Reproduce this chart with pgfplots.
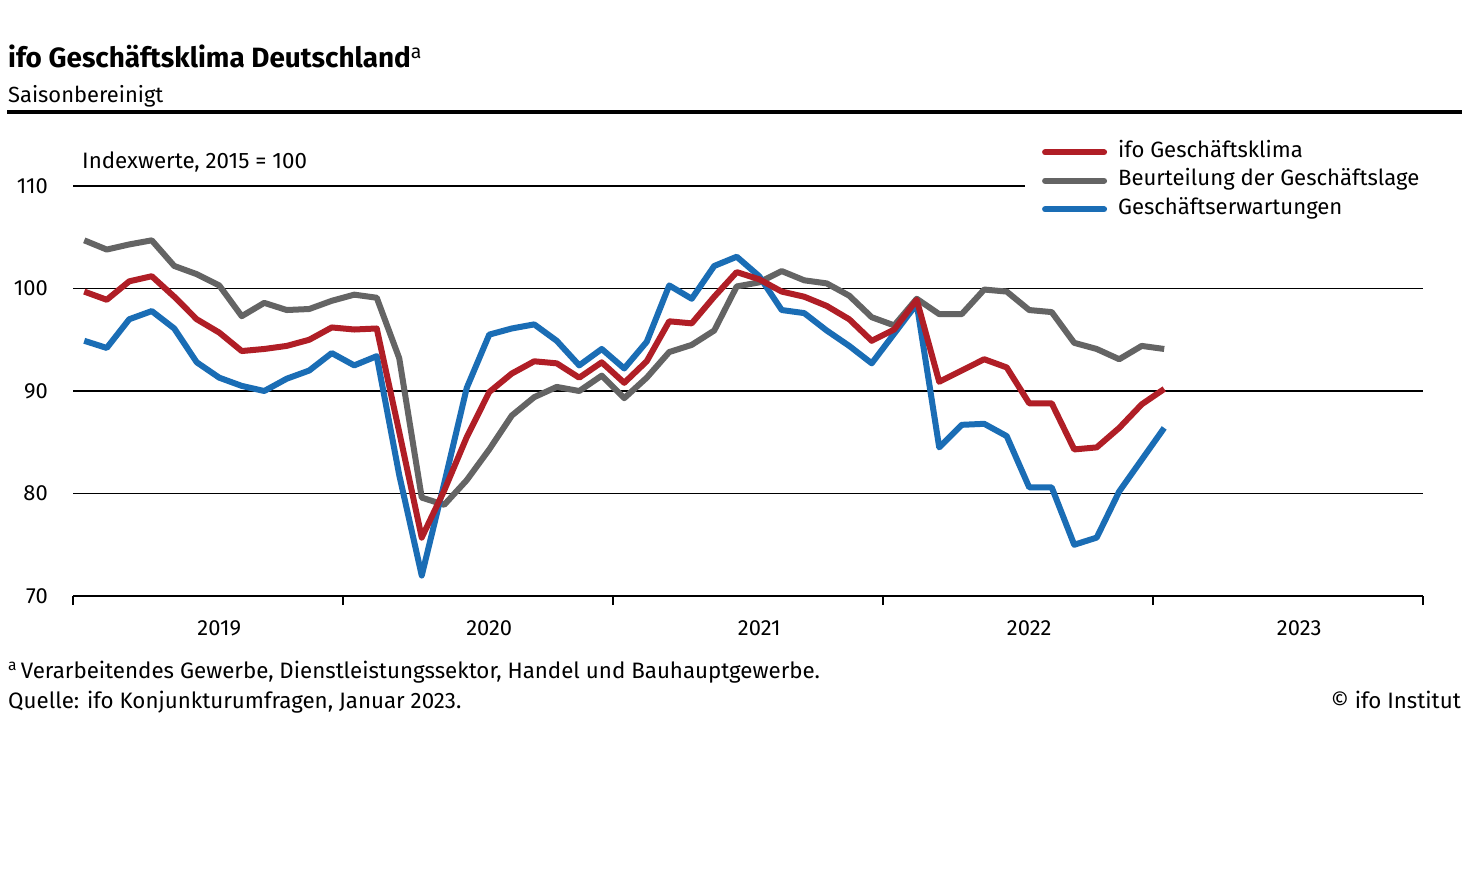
\documentclass[border=0pt]{standalone}
\usepackage{pgfplots}
\pgfplotsset{compat=1.18}
\usepackage{fontspec}
\setmainfont{Fira Sans}
\definecolor{ifored}{HTML}{B01E26}
\definecolor{ifogrey}{HTML}{646464}
\definecolor{ifoblue}{HTML}{1A6DB5}
\pgfplotstableread{
x climate situation expect
0.5 99.7 104.7 94.9
1.5 98.9 103.8 94.2
2.5 100.7 104.3 97.0
3.5 101.2 104.7 97.8
4.5 99.2 102.2 96.1
5.5 97.0 101.4 92.8
6.5 95.7 100.3 91.3
7.5 93.9 97.3 90.5
8.5 94.1 98.6 90.0
9.5 94.4 97.9 91.2
10.5 95.0 98.0 92.0
11.5 96.2 98.8 93.7
12.5 96.0 99.4 92.5
13.5 96.1 99.1 93.4
14.5 86.0 93.2 81.8
15.5 75.7 79.6 72.0
16.5 80.3 78.9 81.0
17.5 85.5 81.3 90.3
18.5 89.9 84.3 95.5
19.5 91.7 87.6 96.1
20.5 92.9 89.4 96.5
21.5 92.7 90.4 94.9
22.5 91.3 90.0 92.5
23.5 92.8 91.5 94.1
24.5 90.8 89.3 92.2
25.5 92.9 91.3 94.8
26.5 96.8 93.8 100.3
27.5 96.6 94.5 99.0
28.5 99.2 95.9 102.2
29.5 101.6 100.2 103.1
30.5 100.9 100.6 101.2
31.5 99.7 101.7 97.9
32.5 99.2 100.8 97.6
33.5 98.3 100.5 95.9
34.5 97.0 99.3 94.4
35.5 94.9 97.2 92.7
36.5 96.0 96.4 95.6
37.5 98.9 99.0 98.5
38.5 90.9 97.5 84.5
39.5 92.0 97.5 86.7
40.5 93.1 99.9 86.8
41.5 92.3 99.7 85.6
42.5 88.8 97.9 80.6
43.5 88.8 97.7 80.6
44.5 84.3 94.7 75.0
45.5 84.5 94.1 75.7
46.5 86.4 93.1 80.2
47.5 88.7 94.4 83.3
48.5 90.2 94.1 86.4
}\ifodata
\begin{document}
\begin{tikzpicture}[x=1bp,y=1bp]
\path[use as bounding box, fill=white] (0,0) rectangle (1471,-877);
\node[anchor=base west, inner sep=0pt, font=\fontsize{28}{32}\selectfont\bfseries] at (8,-67) {ifo Geschäftsklima Deutschland\textsuperscript{\mdseries a}};
\node[anchor=base west, inner sep=0pt, font=\fontsize{22}{26}\selectfont] at (8,-102) {Saisonbereinigt};
\draw[line width=4bp] (7,-112) -- (1462,-112);
\node[anchor=base west, inner sep=0pt, font=\fontsize{22.4}{26}\selectfont] at (82,-168) {Indexwerte, 2015 = 100};
\begin{axis}[
  at={(73bp,-596bp)}, anchor=south west,
  scale only axis, width=1350bp, height=410bp,
  xmin=0, xmax=60, ymin=70, ymax=110,
  axis x line*=bottom, axis y line*=left,
  y axis line style={draw=none},
  x axis line style={line width=1.3bp},
  ytick={70,80,90,100}, extra y ticks={110}, extra y tick style={grid=none},
  ymajorgrids, grid style={black, line width=1.1bp},
  ytick style={draw=none},
  yticklabel style={anchor=east, inner sep=0pt, xshift=-16bp},
  xtick={0,12,...,60}, xticklabels={},
  tick align=outside, major tick length=9bp,
  xtick style={black, line width=1.1bp},
  extra x ticks={6.5,18.5,30.5,42.5,54.5},
  extra x tick labels={2019,2020,2021,2022,2023},
  extra x tick style={major tick length=0pt, xticklabel style={anchor=center, inner sep=0pt, yshift=-32bp}},
  /pgf/number format/assume math mode=true,
  tick label style={font=\fontsize{22}{26}\selectfont},
  legend style={at={(0.7155,1.112)}, anchor=north west, draw=none, fill=none,
    font=\fontsize{22.2}{26}\selectfont, row sep=8.5bp,
    nodes={inner sep=0pt, text height=15bp, text depth=5bp}},
  legend cell align=left,
  legend image code/.code={\draw[#1, line cap=round] (3bp,0bp) -- (62bp,0bp); \path[draw=none, fill=none] (0bp,0bp) -- (76bp,0bp);},
  clip=false,
]
\addlegendimage{ifored, line width=6bp}
\addlegendentry{ifo Geschäftsklima}
\addlegendimage{ifogrey, line width=6bp}
\addlegendentry{Beurteilung der Geschäftslage}
\addlegendimage{ifoblue, line width=6bp}
\addlegendentry{Geschäftserwartungen}
\draw[black, line width=1.1bp] (axis cs:0,110) -- (axis cs:42.3,110);
\addplot[forget plot, ifogrey, line width=6bp, line join=round] table[x=x, y=situation] {\ifodata};
\addplot[forget plot, ifoblue, line width=6bp, line join=round] table[x=x, y=expect] {\ifodata};
\addplot[forget plot, ifored, line width=6bp, line join=round] table[x=x, y=climate] {\ifodata};
\end{axis}
\node[anchor=base west, inner sep=0pt, font=\fontsize{22.4}{26}\selectfont] at (8,-678) {\textsuperscript{a}\,Verarbeitendes Gewerbe, Dienstleistungssektor, Handel und Bauhauptgewerbe.};
\node[anchor=base west, inner sep=0pt, font=\fontsize{22.4}{26}\selectfont] at (8,-708) {Quelle: ifo Konjunkturumfragen, Januar 2023.};
\node[anchor=base east, inner sep=0pt, font=\fontsize{22.4}{26}\selectfont] at (1461,-708) {© ifo Institut};
\end{tikzpicture}
\end{document}
